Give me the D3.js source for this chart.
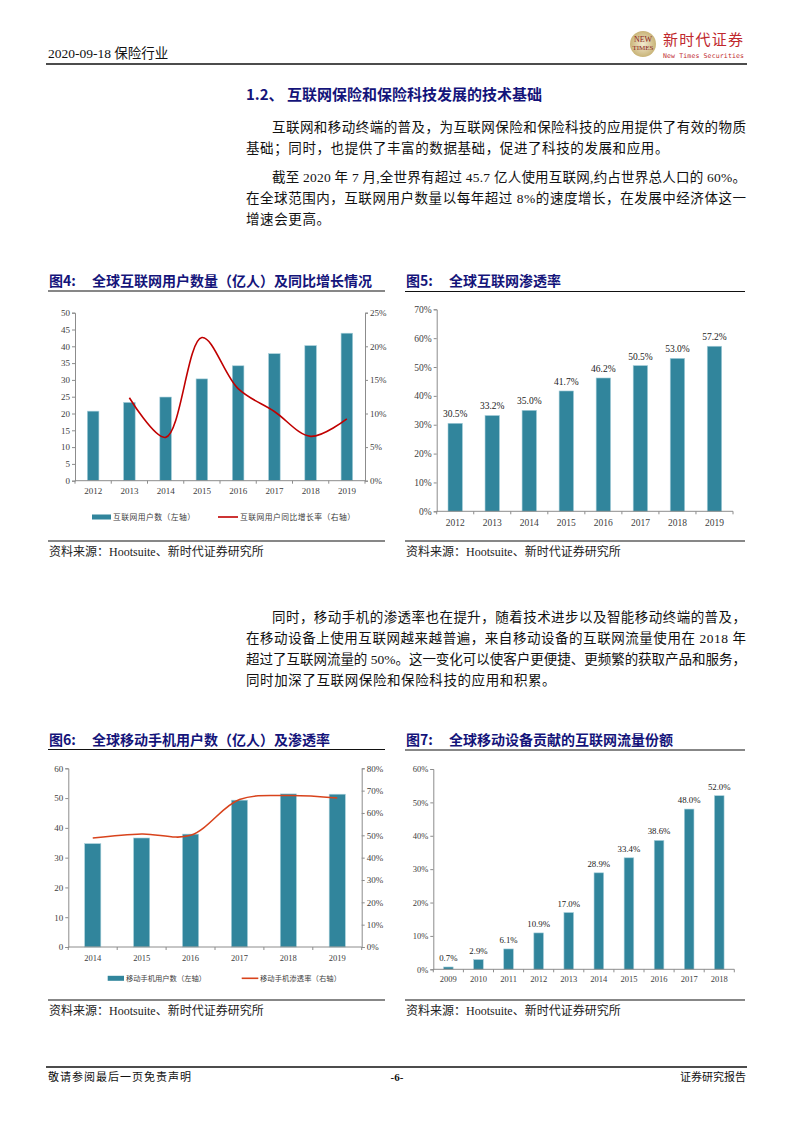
<!DOCTYPE html>
<html><head><meta charset="utf-8">
<script src="https://cdn.jsdelivr.net/npm/d3@7/dist/d3.min.js"></script>
<style>
html,body{margin:0;padding:0;background:#fff;}
svg{display:block;}
</style>
</head><body>
<script>
// ---------- DATA ----------
const years4 = ['2012','2013','2014','2015','2016','2017','2018','2019'];
const users4 = [20.7, 23.3, 24.9, 30.3, 34.2, 37.8, 40.2, 43.9];
const growth4 = [null, 12.35, 6.45, 21.3, 13.7, 10.3, 6.6, 9.2];
const ticks4L = [0,5,10,15,20,25,30,35,40,45,50];
const ticks4R = [0,5,10,15,20,25];

const years5 = ['2012','2013','2014','2015','2016','2017','2018','2019'];
const pen5 = [30.5, 33.2, 35.0, 41.7, 46.2, 50.5, 53.0, 57.2];
const ticks5 = [0,10,20,30,40,50,60,70];

const years6 = ['2014','2015','2016','2017','2018','2019'];
const mobileUsers6 = [34.7, 36.6, 37.9, 49.3, 51.4, 51.3];
const mobilePen6 = [48.8, 50.6, 50.0, 66.0, 67.8, 66.7];
const ticks6L = [0,10,20,30,40,50,60];
const ticks6R = [0,10,20,30,40,50,60,70,80];

const years7 = ['2009','2010','2011','2012','2013','2014','2015','2016','2017','2018'];
const share7 = [0.7, 2.9, 6.1, 10.9, 17.0, 28.9, 33.4, 38.6, 48.0, 52.0];
const ticks7 = [0,10,20,30,40,50,60];

// ---------- STYLE ----------
const BAR = '#31859c';
const AXIS = '#8c8c8c';
const TXT = '#404040';
const NAVY = '#14147a';
const SERIF = "'Liberation Serif','Times New Roman','Noto Sans CJK SC',serif";
const CJK = "'Noto Sans CJK SC','Liberation Serif',sans-serif";

const svg = d3.select('body').append('svg').attr('width',793).attr('height',1122);
svg.append('rect').attr('width',793).attr('height',1122).attr('fill','#fff');

// ---------- HEADER ----------
svg.append('text').attr('x',48).attr('y',58).attr('font-family',SERIF).attr('font-size',13.5)
  .attr('fill','#111').text('2020-09-18 保险行业');
svg.append('line').attr('x1',46).attr('x2',747).attr('y1',64).attr('y2',64).attr('stroke','#111').attr('stroke-width',1.3);
// logo
const defs = svg.append('defs');
const rg = defs.append('radialGradient').attr('id','lg');
rg.append('stop').attr('offset','0%').attr('stop-color','#f3ead0');
rg.append('stop').attr('offset','100%').attr('stop-color','#c9b478');
svg.append('circle').attr('cx',643).attr('cy',44).attr('r',13).attr('fill','url(#lg)');
svg.append('text').attr('x',643).attr('y',42).attr('text-anchor','middle').attr('font-family',SERIF)
  .attr('font-size',8).attr('fill','#8a1d1d').text('NEW');
svg.append('text').attr('x',643).attr('y',50).attr('text-anchor','middle').attr('font-family',SERIF)
  .attr('font-size',7).attr('fill','#8a1d1d').text('TIMES');
svg.append('text').attr('x',663).attr('y',45).attr('font-family',CJK).attr('font-size',15)
  .attr('fill','#c0282d').attr('textLength',80).text('新时代证券');
svg.append('text').attr('x',663).attr('y',58).attr('font-family',"'DejaVu Sans Mono',monospace").attr('font-size',6.5)
  .attr('fill','#c0282d').attr('textLength',81).text('New Times Securities');

// ---------- SECTION TITLE ----------
svg.append('text').attr('x',246).attr('y',100).attr('font-family',CJK).attr('font-size',15)
  .attr('font-weight','bold').attr('fill',NAVY).text('1.2、 互联网保险和保险科技发展的技术基础');

// ---------- BODY TEXT ----------
function bodyLine(str, x, yc, width){
  const t = svg.append('text').attr('x',x).attr('y',yc+5).attr('font-family',SERIF)
    .attr('font-size',13.5).attr('fill','#111').text(str);
  if(width){ t.attr('textLength',width).attr('lengthAdjust','spacing'); }
  else { t.attr('letter-spacing',0.6); }
}
bodyLine('互联网和移动终端的普及，为互联网保险和保险科技的应用提供了有效的物质',272,127,474);
bodyLine('基础；同时，也提供了丰富的数据基础，促进了科技的发展和应用。',246,148,null);
bodyLine('截至 2020 年 7 月,全世界有超过 45.7 亿人使用互联网,约占世界总人口的 60%。',272,177,474);
bodyLine('在全球范围内，互联网用户数量以每年超过 8%的速度增长，在发展中经济体这一',246,198,500);
bodyLine('增速会更高。',246,219,null);

bodyLine('同时，移动手机的渗透率也在提升，随着技术进步以及智能移动终端的普及，',272,617,474);
bodyLine('在移动设备上使用互联网越来越普遍，来自移动设备的互联网流量使用在 2018 年',246,638,500);
bodyLine('超过了互联网流量的 50%。这一变化可以使客户更便捷、更频繁的获取产品和服务，',246,659,500);
bodyLine('同时加深了互联网保险和保险科技的应用和积累。',246,680,null);

// ---------- CHART TITLES / SOURCES ----------
function chartTitle(num, str, x, yc, lineX2, lineY){
  svg.append('text').attr('x',x).attr('y',yc+5).attr('font-family',CJK).attr('font-size',14)
    .attr('font-weight','bold').attr('fill',NAVY).text('图'+num+':');
  svg.append('text').attr('x',x+43).attr('y',yc+5).attr('font-family',CJK).attr('font-size',14)
    .attr('font-weight','bold').attr('fill',NAVY).text(str);
  svg.append('line').attr('x1',x-1).attr('x2',lineX2).attr('y1',lineY).attr('y2',lineY)
    .attr('stroke','#111').attr('stroke-width',1.2);
}
function source(x, lineY, x2){
  svg.append('line').attr('x1',x-1).attr('x2',x2).attr('y1',lineY).attr('y2',lineY)
    .attr('stroke','#111').attr('stroke-width',1.2);
  svg.append('text').attr('x',x).attr('y',lineY+15).attr('font-family',SERIF).attr('font-size',12)
    .attr('fill','#222').text('资料来源：Hootsuite、新时代证券研究所');
}
chartTitle(4,'全球互联网用户数量（亿人）及同比增长情况',49,281,385,291);
chartTitle(5,'全球互联网渗透率',406,281,745,291.5);
chartTitle(6,'全球移动手机用户数（亿人）及渗透率',49,740,385,749.5);
chartTitle(7,'全球移动设备贡献的互联网流量份额',406,740,745,750);
source(49,541,385);
source(406,541,745);
source(49,1000,385);
source(406,1000,745);

// ---------- CHART HELPERS ----------
function styleAxis(g, fs){
  g.select('.domain').attr('stroke',AXIS);
  g.selectAll('.tick line').attr('stroke',AXIS);
  g.selectAll('.tick text').attr('font-family',SERIF).attr('font-size',fs).attr('fill',TXT);
}
function xAxis(x, yBot, fs, labelOff){
  const g = svg.append('g').attr('transform',`translate(0,${yBot})`)
    .call(d3.axisBottom(x).tickSize(0).tickPadding(labelOff));
  styleAxis(g, fs);
  g.select('.domain').remove();
  const r = x.range();
  svg.append('line').attr('x1',r[0]).attr('x2',r[1]).attr('y1',yBot).attr('y2',yBot).attr('stroke',AXIS);
  const n = x.domain().length;
  for(let i=0;i<=n;i++){
    const px = r[0] + i*x.step();
    svg.append('line').attr('x1',px).attr('x2',px).attr('y1',yBot).attr('y2',yBot+3).attr('stroke',AXIS);
  }
}
function bars(x, y, cats, vals, yBot){
  svg.append('g').selectAll('rect').data(vals).join('rect')
    .attr('x',(d,i)=>x(cats[i])).attr('width',x.bandwidth())
    .attr('y',d=>y(d)).attr('height',d=>yBot-y(d))
    .attr('fill',BAR).attr('stroke','#a9d0db').attr('stroke-width',0.6);
}
function valueLabels(x, y, cats, vals, fs, off){
  svg.append('g').selectAll('text').data(vals).join('text')
    .attr('x',(d,i)=>x(cats[i])+x.bandwidth()/2).attr('y',d=>y(d)-off)
    .attr('text-anchor','middle').attr('font-family',SERIF).attr('font-size',fs).attr('fill','#222')
    .text(d=>d.toFixed(1)+'%');
}
function line(x, y, cats, vals, color, w){
  const pts = vals.map((v,i)=>[x(cats[i])+x.bandwidth()/2, v]).filter(p=>p[1]!=null);
  svg.append('path').datum(pts)
    .attr('d', d3.line().x(p=>p[0]).y(p=>y(p[1])).curve(d3.curveCatmullRom.alpha(0.5)))
    .attr('fill','none').attr('stroke',color).attr('stroke-width',w);
}

// ---------- CHART 4 ----------
{
  const x = d3.scaleBand().domain(years4).range([75,365]).paddingInner(0.68).paddingOuter(0.34);
  const y = d3.scaleLinear().domain([0,50]).range([480.7,312.7]);
  const yr = d3.scaleLinear().domain([0,25]).range([480.7,312.7]);
  bars(x,y,years4,users4,480.7);
  const gl = svg.append('g').attr('transform','translate(75,0)')
    .call(d3.axisLeft(y).tickValues(ticks4L).tickSize(3).tickPadding(2));
  styleAxis(gl,9);
  const gr = svg.append('g').attr('transform','translate(365,0)')
    .call(d3.axisRight(yr).tickValues(ticks4R).tickSize(3).tickPadding(2).tickFormat(d=>d+'%'));
  styleAxis(gr,9);
  xAxis(x,480.7,9,7);
  line(x,yr,years4,growth4,'#c00000',1.6);
  // legend
  svg.append('rect').attr('x',92).attr('y',514.5).attr('width',19).attr('height',5).attr('fill',BAR);
  svg.append('text').attr('x',113).attr('y',520).attr('font-family',CJK).attr('font-size',7.8)
    .attr('fill',TXT).attr('textLength',82).text('互联网用户数（左轴）');
  svg.append('line').attr('x1',218).attr('x2',238).attr('y1',517).attr('y2',517).attr('stroke','#c00000').attr('stroke-width',1.6);
  svg.append('text').attr('x',240).attr('y',520).attr('font-family',CJK).attr('font-size',7.8)
    .attr('fill',TXT).attr('textLength',115).text('互联网用户同比增长率（右轴）');
}

// ---------- CHART 5 ----------
{
  const x = d3.scaleBand().domain(years5).range([436.7,733]).paddingInner(0.61).paddingOuter(0.305);
  const y = d3.scaleLinear().domain([0,70]).range([511.3,309.3]);
  bars(x,y,years5,pen5,511.3);
  const gl = svg.append('g').attr('transform','translate(436.7,0)')
    .call(d3.axisLeft(y).tickValues(ticks5).tickSize(3).tickPadding(2).tickFormat(d=>d+'%'));
  styleAxis(gl,9.5);
  xAxis(x,511.3,9.5,8);
  valueLabels(x,y,years5,pen5,9.5,6);
}

// ---------- CHART 6 ----------
{
  const x = d3.scaleBand().domain(years6).range([68.3,361.7]).paddingInner(0.67).paddingOuter(0.335);
  const y = d3.scaleLinear().domain([0,60]).range([947,768.3]);
  const yr = d3.scaleLinear().domain([0,80]).range([947,768.3]);
  bars(x,y,years6,mobileUsers6,947);
  const gl = svg.append('g').attr('transform','translate(68.3,0)')
    .call(d3.axisLeft(y).tickValues(ticks6L).tickSize(3).tickPadding(2));
  styleAxis(gl,9);
  const gr = svg.append('g').attr('transform','translate(361.7,0)')
    .call(d3.axisRight(yr).tickValues(ticks6R).tickSize(3).tickPadding(2).tickFormat(d=>d+'%'));
  styleAxis(gr,9);
  xAxis(x,947,8.5,8);
  line(x,yr,years6,mobilePen6,'#d8431c',1.6);
  svg.append('rect').attr('x',107.7).attr('y',975.8).attr('width',16.3).attr('height',5).attr('fill',BAR);
  svg.append('text').attr('x',126).attr('y',981.3).attr('font-family',CJK).attr('font-size',7.3)
    .attr('fill',TXT).attr('textLength',80).text('移动手机用户数（左轴）');
  svg.append('line').attr('x1',241.7).attr('x2',258.3).attr('y1',978.3).attr('y2',978.3).attr('stroke','#d8431c').attr('stroke-width',1.6);
  svg.append('text').attr('x',260).attr('y',981.3).attr('font-family',CJK).attr('font-size',7.3)
    .attr('fill',TXT).attr('textLength',81).text('移动手机渗透率（右轴）');
}

// ---------- CHART 7 ----------
{
  const x = d3.scaleBand().domain(years7).range([433.3,734.3]).paddingInner(0.68).paddingOuter(0.34);
  const y = d3.scaleLinear().domain([0,60]).range([969.3,769]);
  bars(x,y,years7,share7,969.3);
  const gl = svg.append('g').attr('transform','translate(433.3,0)')
    .call(d3.axisLeft(y).tickValues(ticks7).tickSize(3).tickPadding(2).tickFormat(d=>d+'%'));
  styleAxis(gl,8.5);
  xAxis(x,969.3,8.5,7);
  valueLabels(x,y,years7,share7,8.8,6);
}

// ---------- FOOTER ----------
svg.append('line').attr('x1',46).attr('x2',747).attr('y1',1067).attr('y2',1067).attr('stroke','#111').attr('stroke-width',1.3);
svg.append('text').attr('x',48).attr('y',1081).attr('font-family',CJK).attr('font-size',11)
  .attr('fill','#111').attr('textLength',143).text('敬请参阅最后一页免责声明');
svg.append('text').attr('x',397).attr('y',1081).attr('text-anchor','middle').attr('font-family',SERIF)
  .attr('font-size',11).attr('font-weight','bold').attr('fill','#111').text('-6-');
svg.append('text').attr('x',746).attr('y',1081).attr('text-anchor','end').attr('font-family',CJK).attr('font-size',11)
  .attr('fill','#111').text('证券研究报告');
</script>
</body></html>
